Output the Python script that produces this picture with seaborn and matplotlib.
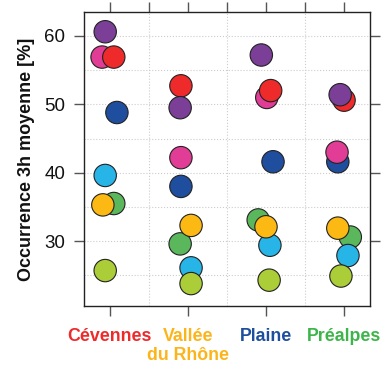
import numpy as np
import pandas as pd
import matplotlib
matplotlib.use("Agg")
import matplotlib.pyplot as plt
import seaborn as sns
from matplotlib.ticker import FixedLocator

# Régions (axe x)
regions = ["Cévennes", "Vallée\ndu Rhône", "Plaine", "Préalpes"]
region_colors = ["#EE2A2B", "#FBB51B", "#1F4E9E", "#3DB54A"]

# Occurrence 3h moyenne [%] par série (ordre : Cévennes, Vallée, Plaine, Préalpes)
# ordre de tracé = ordre de la liste
series = ["vert", "cyan", "jaune_vert", "orange", "bleu", "rose", "rouge", "violet"]
vert       = [35.5, 29.6, 33.1, 30.6]
cyan       = [39.6, 26.1, 29.4, 27.9]
jaune_vert = [25.7, 23.8, 24.3, 24.9]
orange     = [35.3, 32.3, 32.1, 31.9]
bleu       = [48.8, 38.0, 41.6, 41.6]
rose       = [56.9, 42.2, 51.0, 43.0]
rouge      = [56.9, 52.7, 52.0, 50.6]
violet     = [60.6, 49.5, 57.2, 51.4]

# décalage horizontal (jitter)
jit_vert       = [0.05, -0.10, -0.10, 0.08]
jit_cyan       = [-0.06, 0.04, 0.05, 0.05]
jit_jaune_vert = [-0.06, 0.04, 0.04, -0.04]
jit_orange     = [-0.09, 0.04, 0.00, -0.08]
jit_bleu       = [0.09, -0.09, 0.09, -0.08]
jit_rose       = [-0.10, -0.09, 0.01, -0.09]
jit_rouge      = [0.05, -0.09, 0.06, 0.00]
jit_violet     = [-0.06, -0.10, -0.06, -0.05]

valeurs = {"vert": vert, "cyan": cyan, "jaune_vert": jaune_vert, "orange": orange,
           "bleu": bleu, "rose": rose, "rouge": rouge, "violet": violet}
jitters = {"vert": jit_vert, "cyan": jit_cyan, "jaune_vert": jit_jaune_vert,
           "orange": jit_orange, "bleu": jit_bleu, "rose": jit_rose,
           "rouge": jit_rouge, "violet": jit_violet}
palette = {"vert": "#5BB75B", "cyan": "#27B5E8", "jaune_vert": "#ABCD37",
           "orange": "#FDB913", "bleu": "#1F4E9E", "rose": "#E23D96",
           "rouge": "#EE2A2B", "violet": "#7B3F98"}

rows = []
for s in series:
    for i in range(len(regions)):
        rows.append({"serie": s, "x": i + 1 + jitters[s][i], "occ": valeurs[s][i]})
df = pd.DataFrame(rows)

sns.set_style("white")
plt.rcParams["font.family"] = ["Liberation Sans", "DejaVu Sans"]

fig = plt.figure(figsize=(3.92, 3.72), dpi=100)
ax = fig.add_axes([0.214, 0.177, 0.73, 0.791])

sns.scatterplot(data=df, x="x", y="occ", hue="serie", palette=palette,
                s=260, edgecolor="#222222", linewidth=0.8, legend=False,
                ax=ax, zorder=3)

ax.set_xlim(0.667, 4.333)
ax.set_ylim(20.5, 63.5)

ax.set_xticks(range(1, len(regions) + 1))
ax.set_xticklabels(regions, fontweight="bold", fontsize=12.8, va="top",
                   multialignment="center")
for lab, c in zip(ax.get_xticklabels(), region_colors):
    lab.set_color(c)
ax.xaxis.set_minor_locator(FixedLocator([1.5, 2.5, 3.5]))

ax.set_yticks([30, 40, 50, 60])
ax.yaxis.set_minor_locator(FixedLocator([25, 35, 45, 55]))

ax.tick_params(axis="x", which="major", top=True, bottom=True, length=7.5,
               width=1, color="#555555", pad=8)
ax.tick_params(axis="x", which="minor", top=True, bottom=False, length=7.5,
               width=1, color="#555555")
ax.tick_params(axis="y", which="major", left=True, right=True, length=7.5,
               width=1, color="#555555", labelsize=13.5, pad=6,
               labelcolor="#111111")
ax.tick_params(axis="y", which="minor", left=False, right=False, length=0)

ax.grid(axis="x", which="minor", color="#cccccc", linestyle=":", linewidth=0.8)
ax.grid(axis="x", which="major", visible=False)
ax.grid(axis="y", which="both", color="#cccccc", linestyle=":", linewidth=0.8)
ax.set_axisbelow(True)

for sp in ax.spines.values():
    sp.set_color("#222222")
    sp.set_linewidth(1)

ax.set_xlabel("")
ax.set_ylabel("Occurrence 3h moyenne [%]", fontweight="bold", fontsize=13,
              color="#111111")
ax.yaxis.set_label_coords(-0.171, 0.5)

fig.savefig("out.png", dpi=100)
